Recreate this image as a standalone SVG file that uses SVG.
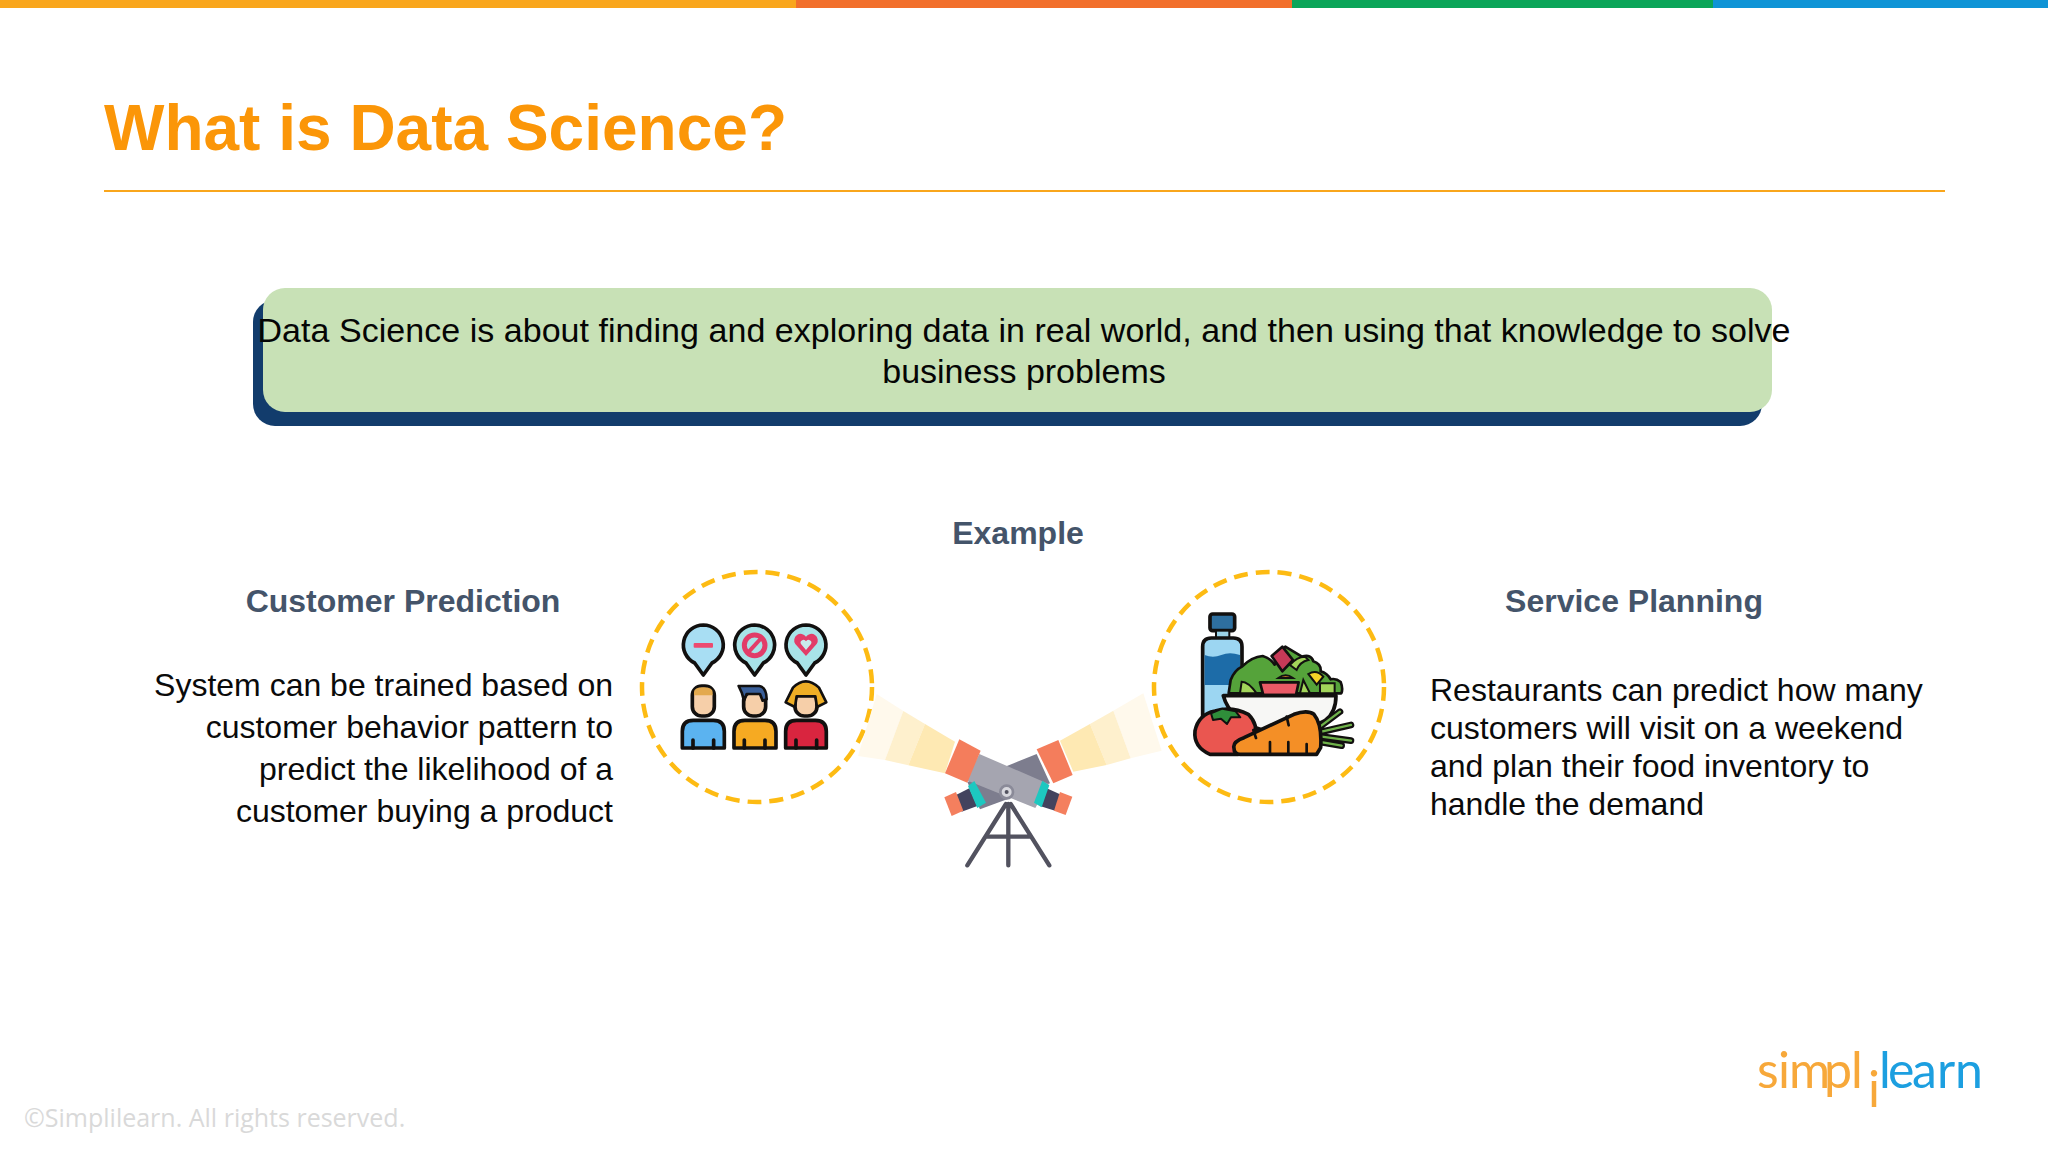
<svg xmlns="http://www.w3.org/2000/svg" width="2048" height="1152" viewBox="0 0 2048 1152">
<style>
text{font-family:"Liberation Sans",Arial,sans-serif}
.body{font-size:32px;fill:#0a0a0a}
.head{font-size:32px;font-weight:bold;fill:#44546a}
.ring{fill:none;stroke:#fdbb13;stroke-width:4.5;stroke-dasharray:14 8}
.k{stroke:#12100f;stroke-width:11;stroke-linejoin:round;stroke-linecap:round}
.t{stroke:#12100f;stroke-width:8;stroke-linejoin:round;stroke-linecap:round}
.leg{stroke:#52525f;stroke-width:13;stroke-linecap:round;fill:none}
.logo{font-family:Lato,"Open Sans",sans-serif}
</style>
<rect width="2048" height="1152" fill="#fff"/>
<g id="top-bar">
<rect x="0" y="0" width="796" height="8" fill="#f9a61c"/>
<rect x="796" y="0" width="496" height="8" fill="#f26f2b"/>
<rect x="1292" y="0" width="421" height="8" fill="#0ba559"/>
<rect x="1713" y="0" width="335" height="8" fill="#0f94d6"/>
</g>
<g id="title">
<text x="104" y="150" font-size="64" font-weight="bold" fill="#fb9608" textLength="683">What is Data Science?</text>
<rect x="104" y="190" width="1841" height="2" fill="#f9a61c"/>
</g>
<g id="definition">
<rect x="253" y="300" width="1509" height="126" rx="22" fill="#123c6c"/>
<rect x="263" y="288" width="1509" height="124" rx="22" fill="#c8e1b6"/>
<text x="1024" y="342" font-size="34" fill="#050505" text-anchor="middle" textLength="1533">Data Science is about finding and exploring data in real world, and then using that knowledge to solve</text>
<text x="1024" y="383" font-size="34" fill="#050505" text-anchor="middle">business problems</text>
</g>
<text id="example" class="head" x="1018" y="544" text-anchor="middle">Example</text>
<g id="customer-prediction">
<text class="head" x="403" y="612" text-anchor="middle">Customer Prediction</text>
<g class="body" text-anchor="end">
<text x="613" y="696">System can be trained based on</text>
<text x="613" y="738">customer behavior pattern to</text>
<text x="613" y="780">predict the likelihood of a</text>
<text x="613" y="822">customer buying a product</text>
</g>
<circle class="ring" cx="757" cy="687" r="115"/>
<g transform="translate(620 550) scale(.3333)">
<g id="bubbles">
<path class="k" d="M250 225a60 60 0 0 1 26 114l-26 36-26-36a60 60 0 0 1 26-114z" fill="#a8def3"/>
<rect x="221" y="279" width="58" height="14" rx="3" fill="#ed4a70"/>
<path class="k" d="M404 225a60 60 0 0 1 26 114l-26 36-26-36a60 60 0 0 1 26-114z" fill="#a8e3e8"/>
<circle cx="404" cy="286" r="31" fill="none" stroke="#e23c68" stroke-width="15"/>
<path d="M384 308L424 264" stroke="#e23c68" stroke-width="12"/>
<path class="k" d="M558 225a60 60 0 0 1 26 114l-26 36-26-36a60 60 0 0 1 26-114z" fill="#a8e3e8"/>
<path d="M558 318l-32-36a19 19 0 0 1 32-22a19 19 0 0 1 32 22z" fill="#e23c68"/>
<path d="M558 300l-15-18a8 8 0 0 1 15-8a8 8 0 0 1 15 8z" fill="#c9ecec"/>
</g>
<g id="person-1">
<rect class="k" x="217" y="408" width="66" height="90" rx="28" fill="#f6cfa9"/>
<path d="M222 436v-10q0-14 28-14t28 14v10z" fill="#e3a94e"/>
<path class="k" d="M187 594v-50q0-33 33-33h60q33 0 33 33v50z" fill="#5bb3f0"/>
<path d="M219 594v-24M281 594v-24" stroke="#12100f" stroke-width="11" stroke-linecap="round"/>
</g>
<g id="person-2">
<rect class="k" x="371" y="425" width="66" height="73" rx="28" fill="#f6cfa9"/>
<path d="M356 408h62q22 4 22 40l-12 4-8-20h-40l-8 20-6-22z" fill="#3a5f99" stroke="#12100f" stroke-width="8" stroke-linejoin="round"/>
<path class="k" d="M342 594v-50q0-33 33-33h60q33 0 33 33v50z" fill="#f6aa22"/>
<path d="M373 594v-24M435 594v-24" stroke="#12100f" stroke-width="11" stroke-linecap="round"/>
</g>
<g id="person-3">
<rect class="k" x="525" y="425" width="66" height="73" rx="28" fill="#f6cfa9"/>
<path d="M497 457l22-44q38-38 78 0l22 44-28 14-5-32h-56l-5 32z" fill="#efae25" stroke="#12100f" stroke-width="8" stroke-linejoin="round"/>
<path class="k" d="M497 594v-50q0-33 33-33h56q33 0 33 33v50z" fill="#d9253f"/>
<path d="M528 594v-24M590 594v-24" stroke="#12100f" stroke-width="11" stroke-linecap="round"/>
</g>
</g>
</g>
<g id="telescope" transform="translate(880 680) scale(.3333)">
<polygon points="-10,42 70,93 15,240 -66,228" fill="#fff9ec"/>
<polygon points="70,93 135,132 85,256 15,240" fill="#fef0cd"/>
<polygon points="135,132 225,185 195,280 85,256" fill="#fee9b3"/>
<polygon points="790,40 700,92 752,235 845,212" fill="#fff9ec"/>
<polygon points="700,92 630,132 680,255 752,235" fill="#fef0cd"/>
<polygon points="630,132 540,182 580,275 680,255" fill="#fee9b3"/>
<path class="leg" d="M378 372L262 556M385 372V556M392 372L508 556M318 470H450"/>
<polygon points="228,345 268,325 292,378 245,395" fill="#43435e"/>
<polygon points="500,325 545,345 525,392 480,378" fill="#43435e"/>
<polygon points="193,352 228,336 250,392 215,408" fill="#f47f5e"/>
<polygon points="540,336 577,350 557,405 522,392" fill="#f47f5e"/>
<polygon points="470,222 510,310 300,388 262,306" fill="#7d7d8e"/>
<polygon points="298,222 506,312 466,384 258,300" fill="#a5a5b0"/>
<polygon points="264,318 283,303 318,368 292,384" fill="#1dc8c0"/>
<polygon points="487,302 508,316 485,382 462,368" fill="#1dc8c0"/>
<polygon points="238,178 302,212 262,308 195,280" fill="#f47d5c"/>
<polygon points="470,208 535,180 578,285 520,310" fill="#f47d5c"/>
<circle cx="380" cy="336" r="19" fill="#d8d8de" stroke="#8a8a98" stroke-width="8"/>
<circle cx="380" cy="336" r="6" fill="#52525f"/>
</g>
<g id="service-planning">
<text class="head" x="1634" y="612" text-anchor="middle">Service Planning</text>
<g class="body">
<text x="1430" y="701">Restaurants can predict how many</text>
<text x="1430" y="739">customers will visit on a weekend</text>
<text x="1430" y="777">and plan their food inventory to</text>
<text x="1430" y="815">handle the demand</text>
</g>
<circle class="ring" cx="1269" cy="687" r="115"/>
<g transform="translate(1130 550) scale(.3333)">
<g id="bottle">
<rect class="k" x="240" y="192" width="74" height="50" rx="8" fill="#2e6f9f"/>
<rect x="258" y="242" width="40" height="22" fill="#9bd3e8" stroke="#12100f" stroke-width="6"/>
<path class="k" d="M218 500V290q0-26 26-26h66q26 0 26 26V500z" fill="#9cd6f2"/>
<path d="M224 315q25 10 50 0t56 0v90H224z" fill="#1d6ca8"/>
</g>
<g id="salad">
<path class="t" d="M296 430l6-40q12-30 34-40 30-30 62-32 22 6 36 26l32-54 50 30q28-8 34 14 24 8 22 30 20 6 30 24 16-4 30 8 8 20 2 34z" fill="#55a33a"/>
<path class="t" d="M425 318l32-28 32 40-32 34z" fill="#c63a57"/>
<path d="M480 345q20-25 45-25l10 10q-25 5-35 30zM335 395q20 0 45 35h-50zM520 390l20 40h-30z" fill="#a2d45a" stroke="#12100f" stroke-width="6"/>
<path class="t" d="M390 397h116l-8 38H400z" fill="#ea5a66"/>
<path d="M535 372q25-15 45 8l-20 24z" fill="#f5d327" stroke="#12100f" stroke-width="6"/>
<path d="M445 384q22-16 44 0z" fill="#f0952b" stroke="#12100f" stroke-width="6"/>
<path d="M570 430v-30h44v30z" fill="#a2d45a" stroke="#12100f" stroke-width="6"/>
</g>
<path class="k" d="M280 437H618q0 50-32 74l-60 30H400q-100-30-120-104z" fill="#f7f7f5"/>
<g id="tomato">
<path class="k" d="M255 483q50-15 100 10 30 30 20 70l-50 50H240q-50-22-45-70 10-50 60-60z" fill="#ea5650"/>
<path d="M243 490l34-14 40 8 14 18-28 0-12 20-18-16-24 4z" fill="#2f8e3a" stroke="#12100f" stroke-width="6" stroke-linejoin="round"/>
</g>
<g id="carrot">
<path d="M570 530l60-45M575 545l88-20M575 560l88 12M565 575l70 12" fill="none" stroke="#12100f" stroke-width="20" stroke-linecap="round"/>
<path d="M570 530l60-45M575 545l88-20M575 560l88 12M565 575l70 12" fill="none" stroke="#6fb24a" stroke-width="7" stroke-linecap="round"/>
<path class="k" d="M312 595q-5-20 30-32l150-70q40-15 60 0 25 30 20 100l-12 20H330q-18 0-18-18z" fill="#f48f26"/>
<path d="M420 612v-36M475 612v-36M530 612v-30M370 540l8 24M470 500l6 26" stroke="#12100f" stroke-width="8" stroke-linecap="round"/>
</g>
</g>
</g>
<g id="logo">
<text class="logo" y="1088" font-size="50" fill="#f7a83a"><tspan x="1757 1778 1789 1824 1851">simpl</tspan><tspan x="1868" y="1107">i</tspan><tspan x="1879 1888 1912 1937 1955" y="1088" fill="#1c9fe0">learn</tspan></text>
</g>
<text id="copyright" x="24" y="1127" font-size="25" fill="#d9d9d9" style="font-family:'Open Sans',sans-serif">©Simplilearn. All rights reserved.</text>
</svg>
